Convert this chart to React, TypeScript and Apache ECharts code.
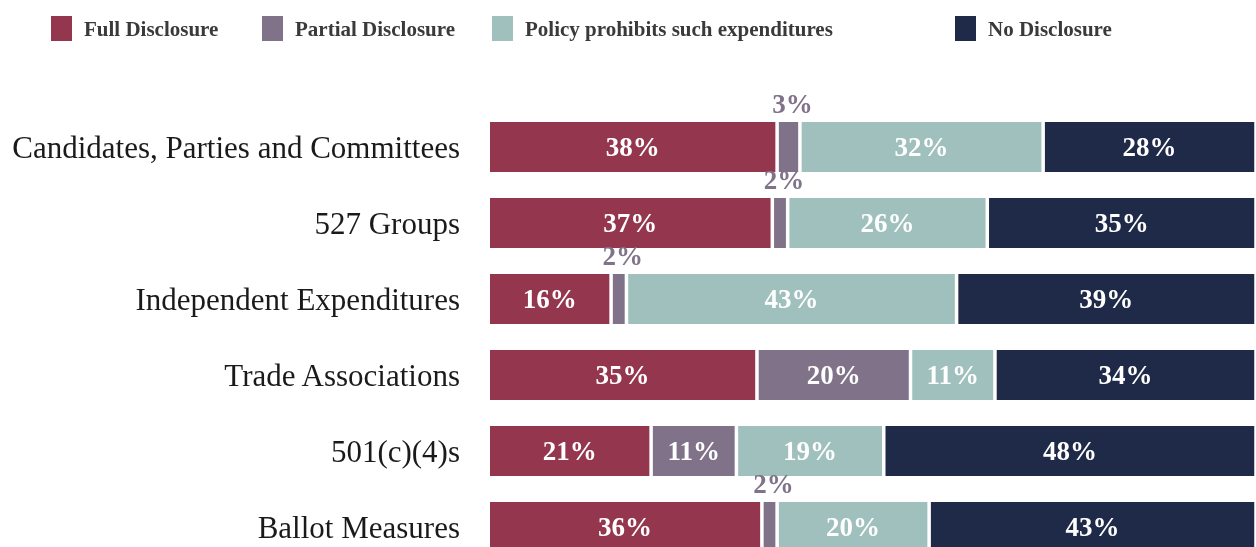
import React, { useEffect, useRef } from "react";
import * as echarts from "echarts";

const categories = [
  "Candidates, Parties and Committees",
  "527 Groups",
  "Independent Expenditures",
  "Trade Associations",
  "501(c)(4)s",
  "Ballot Measures",
];

const seriesNames = [
  "Full Disclosure",
  "Partial Disclosure",
  "Policy prohibits such expenditures",
  "No Disclosure",
];

const fullDisclosure = [38, 37, 16, 35, 21, 36];
const partialDisclosure = [3, 2, 2, 20, 11, 2];
const policyProhibits = [32, 26, 43, 11, 19, 20];
const noDisclosure = [28, 35, 39, 34, 48, 43];

const colors = ["#94364e", "#7f7289", "#9fc0bc", "#1e2a47"];

const SERIF = "'Liberation Serif', 'DejaVu Serif', serif";
const BW = 1.75;

export default function App() {
  const ref = useRef<HTMLDivElement>(null);

  useEffect(() => {
    if (!ref.current) return;
    const chart = echarts.init(ref.current, null, { renderer: "svg" });
    const all = [fullDisclosure, partialDisclosure, policyProhibits, noDisclosure];
    const rowSums = categories.map((_, i) => all.reduce((s, arr) => s + arr[i], 0));

    const series = all.map((arr, si) => ({
      name: seriesNames[si],
      type: "bar",
      stack: "total",
      barWidth: 50 + 2 * BW,
      itemStyle: { color: colors[si], borderColor: "#ffffff", borderWidth: BW },
      label: {
        show: true,
        position: "inside",
        color: "#ffffff",
        fontFamily: SERIF,
        fontWeight: "bold",
        fontSize: 27,
        formatter: (p: any) => p.data.raw + "%",
      },
      data: arr.map((v, i) => {
        const item: any = { value: (v / rowSums[i]) * 100, raw: v };
        if (v <= 3) {
          item.label = { position: "top", color: "#7f7289", distance: 3, offset: [4, 0] };
        }
        return item;
      }),
    }));

    const legendLefts = [49, 260, 490, 953];
    const legend = seriesNames.map((n, i) => ({
      data: [n],
      left: legendLefts[i],
      top: 14,
      padding: 0,
      itemWidth: 23,
      itemHeight: 27,
      icon: "rect",
      selectedMode: false,
      textStyle: {
        fontFamily: SERIF,
        fontWeight: "bold",
        fontSize: 21,
        color: "#3a3a3a",
        padding: [0, 0, 0, 6],
      },
    }));

    chart.setOption({
      animation: false,
      color: colors,
      legend,
      grid: { left: 490 - BW, right: -BW, top: 109, height: 456, containLabel: false },
      xAxis: {
        type: "value",
        min: 0,
        max: 100,
        show: false,
      },
      yAxis: {
        type: "category",
        data: categories,
        inverse: true,
        axisLine: { show: false },
        axisTick: { show: false },
        axisLabel: {
          margin: 30 - BW,
          fontFamily: SERIF,
          fontSize: 31,
          color: "#1a1a1a",
        },
      },
      series,
    });
    return () => chart.dispose();
  }, []);

  return (
    <div style={{ position: "fixed", left: 0, top: 0, width: 1256, height: 547, overflow: "hidden" }}>
      <div ref={ref} style={{ width: 1256, height: 580 }} />
    </div>
  );
}
